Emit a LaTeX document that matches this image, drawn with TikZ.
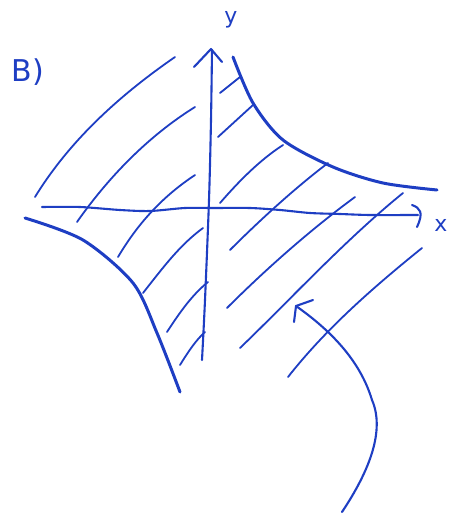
\documentclass[tikz,border=0pt]{standalone}
\usepackage{fontspec}
\setsansfont{DejaVu Sans}
\definecolor{pen}{RGB}{30,62,195}
\begin{document}
\begin{tikzpicture}[x=1pt,y=-1pt,
  ink/.style={draw=pen,line cap=round,line join=round},
  thick ink/.style={ink,line width=3pt},
  axis ink/.style={ink,line width=2.1pt},
  hatch/.style={ink,line width=1.8pt},
  lbl/.style={text=pen,font=\sffamily,inner sep=0pt}]
\useasboundingbox (0,0) rectangle (450,513);
% labels
\node[lbl,font=\sffamily\fontsize{30}{30}\selectfont] (B) at (28,72) {B)};
\node[lbl,font=\sffamily\fontsize{22}{22}\selectfont] (ylab) at (231,20) {y};
\node[lbl,font=\sffamily\fontsize{22}{22}\selectfont] (xlab) at (441,225) {x};
% axes
\draw[axis ink] plot[smooth] coordinates {(202,360) (205,300) (209,200) (211,120) (212,50)};
\draw[axis ink] (194,67) -- (211,49) -- (222,62);
\draw[axis ink] plot[smooth] coordinates {(42,207) (80,207) (120,210) (150,211) (185,208) (213,208) (250,208) (280,210) (310,213) (340,214) (370,215) (418,215)};
\draw[axis ink] (412,205) .. controls (420,208) and (424,212) .. (417,227);
% curves
\draw[thick ink] plot[smooth] coordinates {(233,57) (253,103) (283,140) (333,167) (383,183) (437,190)};
\draw[thick ink] plot[smooth] coordinates {(25,218) (83,240) (133,283) (157,333) (180,392)};
% hatching
\draw[hatch] (35,197) .. controls (70,140) and (120,95) .. (175,57);
\draw[hatch] (77,222) .. controls (110,175) and (150,135) .. (195,107);
\draw[hatch] (118,257) .. controls (140,220) and (165,195) .. (195,175);
\draw[hatch] (143,293) .. controls (165,265) and (180,245) .. (203,228);
\draw[hatch] (167,332) .. controls (180,312) and (192,295) .. (208,282);
\draw[hatch] (180,365) .. controls (188,352) and (196,340) .. (205,332);
\draw[hatch] (220,93) -- (240,77);
\draw[hatch] (218,137) -- (253,105);
\draw[hatch] (220,203) .. controls (240,180) and (260,160) .. (283,145);
\draw[hatch] (230,250) .. controls (260,220) and (295,188) .. (328,163);
\draw[hatch] (227,308) .. controls (265,270) and (310,230) .. (355,197);
\draw[hatch] (240,348) .. controls (290,300) and (345,240) .. (403,193);
\draw[hatch] (288,377) .. controls (325,330) and (370,290) .. (422,248);
% arrow
\coordinate (tail) at (342,512);
\coordinate (tip) at (296,306);
\draw[axis ink] (tail) .. controls (370,470) and (385,430) .. (372,400) .. controls (360,360) and (330,330) .. (tip);
\draw[axis ink] (313,300) -- (tip) -- (294,322);
\end{tikzpicture}
\end{document}
